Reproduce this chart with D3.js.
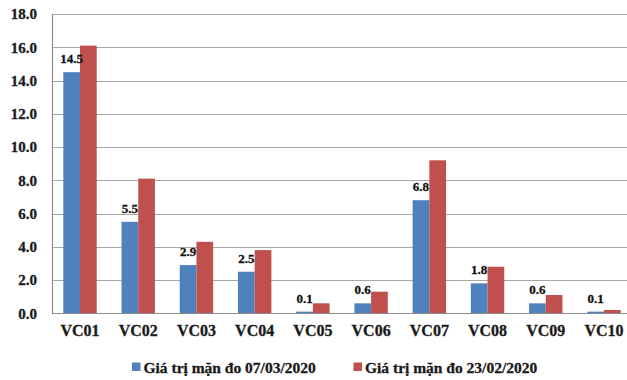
<!DOCTYPE html>
<html>
<head>
<meta charset="utf-8">
<script src="https://cdn.jsdelivr.net/npm/d3@7"></script>
<style>
  html, body { margin: 0; padding: 0; background: #fff; }
  svg { display: block; }
</style>
</head>
<body>
<svg id="chart" width="627" height="380"></svg>
<script>
// Salinity measurements per station
const stations = ["VC01", "VC02", "VC03", "VC04", "VC05", "VC06", "VC07", "VC08", "VC09", "VC10"];
const salinity0703 = [14.5, 5.5, 2.9, 2.5, 0.1, 0.6, 6.8, 1.8, 0.6, 0.1];
const salinity2302 = [16.1, 8.1, 4.3, 3.8, 0.6, 1.3, 9.2, 2.8, 1.1, 0.2];
const seriesNames = ["Giá trị mặn đo 07/03/2020", "Giá trị mặn đo 23/02/2020"];
const seriesColors = ["#4F81BD", "#C0504D"];
const yTicks = [0, 2, 4, 6, 8, 10, 12, 14, 16, 18];

const FONT = "'Liberation Serif', 'Times New Roman', serif";
const svg = d3.select("#chart");
const plotLeft = 52, plotRight = 632, plotTop = 14, plotBottom = 313.3;

const x = d3.scaleBand().domain(stations).range([plotLeft, plotRight])
  .paddingInner(0.426).paddingOuter(0.194);
const xSub = d3.scaleBand().domain([0, 1]).range([0, x.bandwidth()]);
const y = d3.scaleLinear().domain([0, 18]).range([plotBottom, plotTop]);

// bold serif text, slightly heavier strokes
function label(sel, size, color) {
  return sel.style("font-family", FONT).style("font-weight", "bold")
    .style("font-size", size + "px")
    .attr("fill", color).attr("stroke", color).attr("stroke-width", 0.3);
}

// horizontal gridlines
svg.append("g").selectAll("line").data(yTicks.filter(d => d > 0)).join("line")
  .attr("x1", plotLeft).attr("x2", 627)
  .attr("y1", d => Math.round(y(d)) + 0.5).attr("y2", d => Math.round(y(d)) + 0.5)
  .attr("stroke", "#A6A6A6").attr("stroke-width", 1.2);

// y axis
const yAxis = svg.append("g").attr("transform", `translate(${plotLeft},0)`)
  .call(d3.axisLeft(y).tickValues(yTicks).tickFormat(d3.format(".1f")).tickSize(0).tickPadding(15));
yAxis.select(".domain").attr("stroke", "#8C8C8C").attr("stroke-width", 1.2);
label(yAxis.selectAll("text"), 15, "#1a1a1a");

// bars
const groups = svg.append("g").selectAll("g").data(stations).join("g")
  .attr("transform", d => `translate(${x(d)},0)`);
[salinity0703, salinity2302].forEach((vals, s) => {
  groups.append("rect")
    .attr("x", xSub(s))
    .attr("width", xSub.bandwidth())
    .attr("y", (d, i) => y(vals[i]))
    .attr("height", (d, i) => y(0) - y(vals[i]))
    .attr("fill", seriesColors[s]);
});

// value labels for the first series
label(groups.append("text"), 13, "#111")
  .attr("x", xSub(0) + xSub.bandwidth() / 2)
  .attr("y", (d, i) => y(salinity0703[i]) - 9)
  .attr("text-anchor", "middle")
  .text((d, i) => d3.format(".1f")(salinity0703[i]));

// baseline
svg.append("line").attr("x1", plotLeft).attr("x2", 627)
  .attr("y1", Math.round(plotBottom) + 0.5).attr("y2", Math.round(plotBottom) + 0.5)
  .attr("stroke", "#8C8C8C").attr("stroke-width", 1.2);

// category labels
label(svg.append("g").selectAll("text").data(stations).join("text"), 16, "#1a1a1a")
  .attr("x", d => x(d) + x.bandwidth() / 2)
  .attr("y", 336)
  .attr("text-anchor", "middle")
  .text(d => d);

// legend
const legendX = [132, 353.5];
const legend = svg.append("g").selectAll("g").data(seriesNames).join("g")
  .attr("transform", (d, i) => `translate(${legendX[i]},0)`);
legend.append("rect").attr("x", 0).attr("y", 362.5).attr("width", 8.5).attr("height", 8.5)
  .attr("fill", (d, i) => seriesColors[i]);
label(legend.append("text"), 15.5, "#1a1a1a")
  .attr("x", 11.5).attr("y", 372.5)
  .text(d => d);
</script>
</body>
</html>
